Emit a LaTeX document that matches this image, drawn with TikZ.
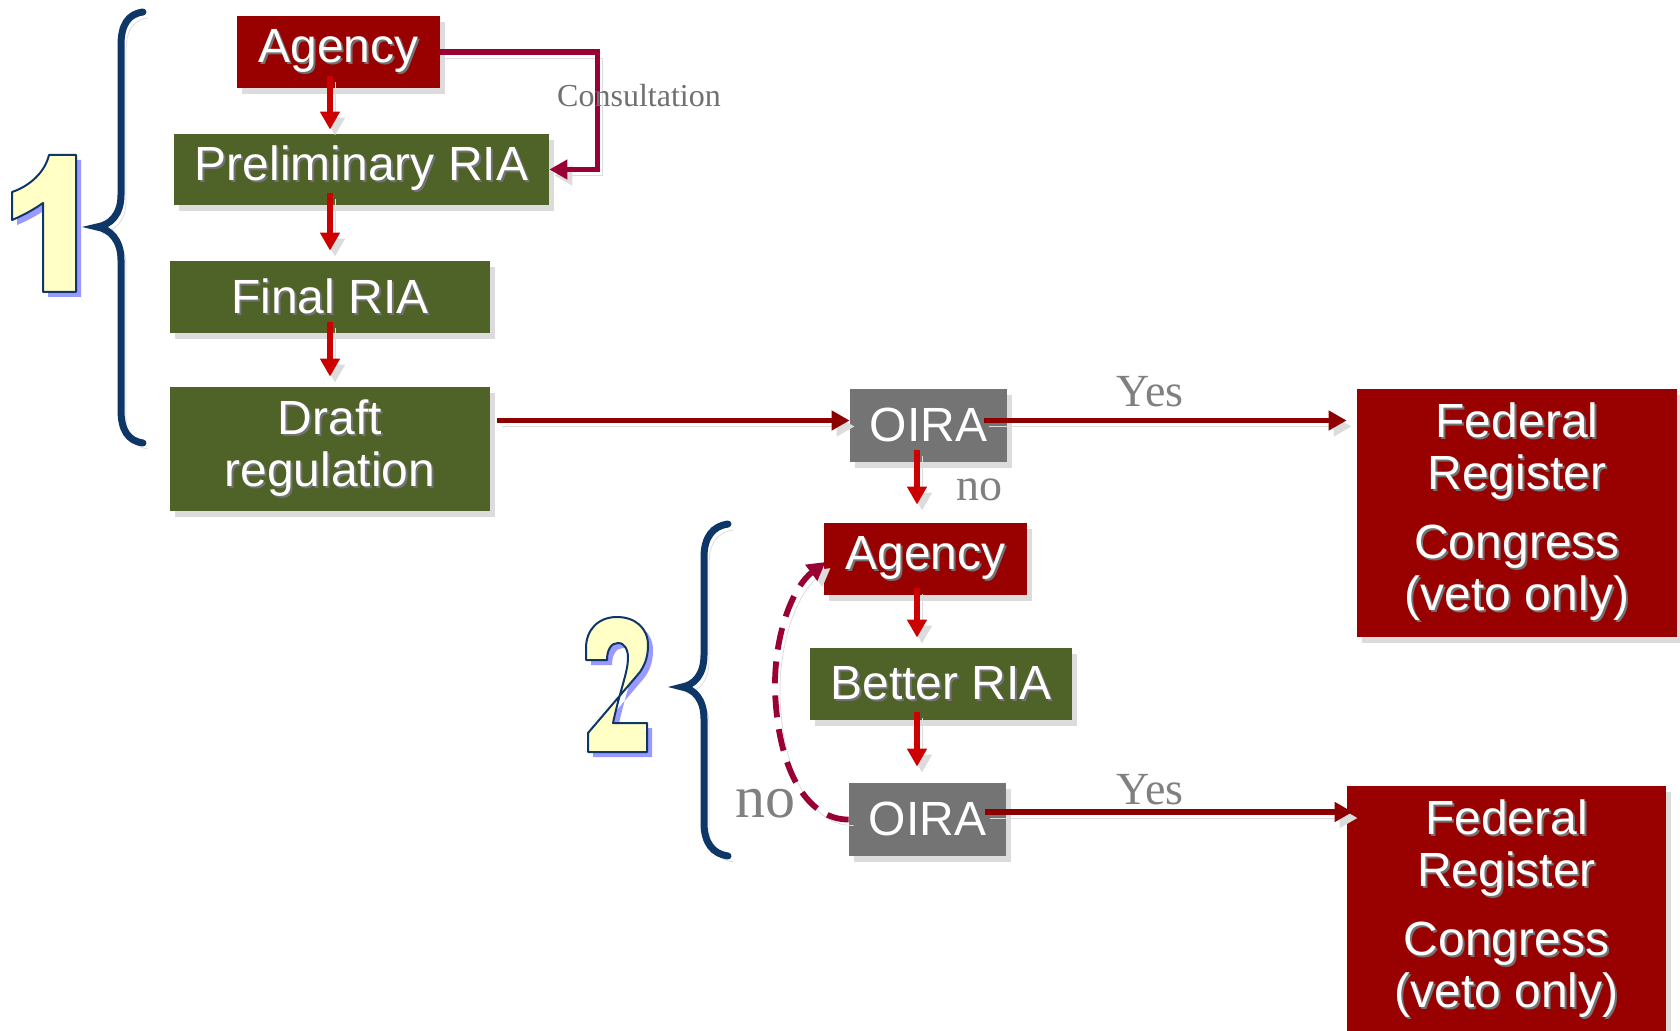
\documentclass[tikz,border=0pt]{standalone}
\usepackage{fontspec}
\setmainfont{Liberation Sans}
\newfontfamily\lblfont{Liberation Serif}
\usetikzlibrary{shadows,arrows.meta,calc}
\definecolor{boxred}{HTML}{990000}
\definecolor{boxgreen}{HTML}{4F6228}
\definecolor{boxgray}{HTML}{747474}
\definecolor{arrred}{HTML}{CC0000}
\definecolor{arrdark}{HTML}{8C0000}
\definecolor{crimson}{HTML}{990033}
\definecolor{navy}{HTML}{0E3768}
\definecolor{lblgray}{HTML}{808080}
\definecolor{consgray}{HTML}{707070}
\definecolor{digitfill}{HTML}{FFFFC6}
\definecolor{digitshadow}{HTML}{9999FF}
\definecolor{shadowgray}{HTML}{DCDCDC}
\newcommand{\tsh}[1]{\leavevmode\rlap{\kern1pt\raisebox{-1pt}{\textcolor{black!55}{#1}}}#1}
\tikzset{
  box/.style={inner sep=0pt, text=white, font=\fontsize{24}{26}\selectfont, align=center,
    drop shadow={shadow xshift=2.5pt, shadow yshift=-3pt, fill=shadowgray, opacity=1}},
  redbox/.style={box, fill=boxred},
  greenbox/.style={box, fill=boxgreen},
  graybox/.style={box, fill=boxgray},
  lineshadow/.style={preaction={draw=shadowgray, transform canvas={xshift=2.5pt, yshift=-3pt}}},
  tipstyle/.style={-{Triangle[width=9.5pt,length=9pt]}},
  varrow/.style={lineshadow, draw=arrred, line width=2.9pt, tipstyle},
  harrow/.style={lineshadow, draw=arrdark, line width=2.9pt, tipstyle},
  consarrow/.style={lineshadow, draw=crimson, line width=2.8pt, tipstyle},
  dasharc/.style={lineshadow, draw=crimson, line width=2.9pt, dash pattern=on 11pt off 6pt, tipstyle},
  brace/.style={lineshadow, draw=navy, line width=3.5pt, line cap=round},
  digit/.style={preaction={fill=digitshadow, transform canvas={xshift=2.5pt, yshift=-2.5pt}},
    fill=digitfill, draw=navy, line width=1pt, line join=round},
  lbl/.style={inner sep=0pt, text=lblgray, font=\lblfont\fontsize{23}{25}\selectfont}
}
\begin{document}
\begin{tikzpicture}[x=0.5pt,y=-0.5pt]
\useasboundingbox (0,0) rectangle (1680,1031);
\fill[white] (0,0) rectangle (1680,1031);

% big digits
\path[digit] (49,155) -- (76,155) -- (76,292) -- (43,292) -- (43,203)
  .. controls (33,210) and (22,216) .. (12,220) -- (12,192)
  .. controls (30,186) and (45,172) .. (49,155) -- cycle;
\path[digit] (586,660) -- (607,660)
  .. controls (607,650) and (611,643) .. (618,643)
  .. controls (625,643) and (628,650) .. (628,658)
  .. controls (628,672) and (620,690) .. (613,723)
  -- (647,723) -- (647,752) -- (588,752) -- (588,733)
  -- (640,672)
  .. controls (646,663) and (648,655) .. (648,645)
  .. controls (648,628) and (635,617) .. (617,617)
  .. controls (598,617) and (586,630) .. (586,648) -- cycle;

% braces
\draw[brace] (143,12) .. controls (128,14) and (121,25) .. (121,45) -- (121,195)
  .. controls (121,215) and (110,225) .. (97,227)
  .. controls (110,229) and (121,240) .. (121,260) -- (121,410)
  .. controls (121,430) and (128,441) .. (143,443);
\draw[brace] (728,524) .. controls (713,526) and (704,537) .. (704,557) -- (704,655)
  .. controls (704,675) and (694,685) .. (682,687)
  .. controls (694,689) and (704,699) .. (704,719) -- (704,823)
  .. controls (704,843) and (713,854) .. (728,856);

% boxes
\node[redbox, minimum width=101.5pt, minimum height=36pt] (agA) at (338.5,52) {\tsh{Agency}};
\node[greenbox, minimum width=187.5pt, minimum height=35.5pt] (prelim) at (361.5,169.5) {\tsh{Preliminary RIA}};
\node[greenbox, minimum width=160pt, minimum height=36pt] (final) at (330,297) {\tsh{Final RIA}};
\node[greenbox, minimum width=160pt, minimum height=62pt] (draft) at (330,449) {\tsh{Draft}\\\tsh{regulation}};
\node[graybox, minimum width=78.5pt, minimum height=36.5pt] (oiraA) at (928.5,425.5) {\tsh{OIRA}};
\node[redbox, minimum width=160pt, minimum height=124pt] (fedA) at (1517,513)
  {\tsh{Federal}\\\tsh{Register}\\[8.5pt]\tsh{Congress}\\\tsh{(veto only)}};
\node[redbox, minimum width=101.5pt, minimum height=36pt] (agB) at (925.5,559) {\tsh{Agency}};
\node[greenbox, minimum width=131pt, minimum height=36pt] (better) at (941,684) {\tsh{Better RIA}};
\node[graybox, minimum width=78.5pt, minimum height=36.5pt] (oiraB) at (927.5,819.5) {\tsh{OIRA}};
\node[redbox, minimum width=159.5pt, minimum height=124pt] (fedB) at (1506.5,910)
  {\tsh{Federal}\\\tsh{Register}\\[8.5pt]\tsh{Congress}\\\tsh{(veto only)}};

% vertical arrows, part 1
\draw[varrow] ($(agA.south -| final.north)+(0,-12)$) -- ($(prelim.north -| final.north)+(0,-4)$);
\draw[varrow] ($(prelim.south -| final.north)+(0,-12)$) -- ($(final.north)+(0,-10)$);
\draw[varrow] ($(final.south)+(0,-11)$) -- ($(draft.north)+(0,-10)$);

% consultation
\draw[consarrow] (agA.east) -| ($(prelim.east)+(48,0)$) -- (prelim.east);
\node[inner sep=0pt, text=consgray, font=\lblfont\fontsize{16}{18}\selectfont] (cons) at (639,96) {Consultation};

% horizontal arrows
\draw[harrow] ($(draft.east |- oiraA.west)+(7,-5)$) -- ($(oiraA.west)+(0,-5)$);
\draw[harrow] ($(oiraA.east)+(-23,-5)$) -- ($(fedA.west |- oiraA.east)+(-10,-5)$);
\node[lbl] (yesA) at (1150,392) {Yes};
\draw[harrow] ($(oiraB.east)+(-21,-7.5)$) -- ($(fedB.west |- oiraB.east)+(6,-7.5)$);
\node[lbl] (yesB) at (1150,790) {Yes};

% vertical arrows, part 2
\draw[varrow] ($(oiraA.south)+(-11.5,-12)$) -- ($(agB.north -| oiraA.south)+(-11.5,-18)$);
\node[lbl] (noA) at (979,490) {no};
\draw[varrow] ($(agB.south)+(-8.5,-7)$) -- ($(better.north -| agB.south)+(-8.5,-10)$);
\draw[varrow] ($(better.south -| oiraB.north)+(-10.5,-8)$) -- ($(oiraB.north)+(-10.5,-16)$);

% dashed loop back
\draw[dasharc] (oiraB.west) .. controls (810,820) and (778,775) .. (775,690)
  .. controls (774,630) and (795,585) .. ($(agB.west)+(2,3)$);
\node[lbl, font=\lblfont\fontsize{30}{32}\selectfont] (noB) at (765,804) {no};
\end{tikzpicture}
\end{document}
